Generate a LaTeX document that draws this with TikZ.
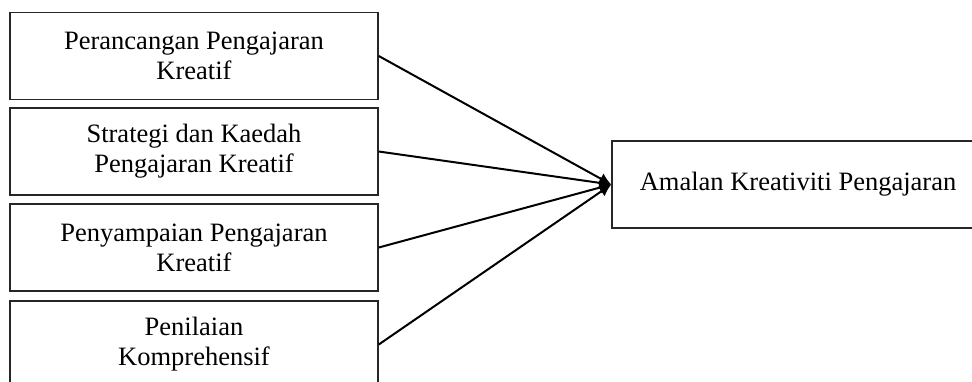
\documentclass[tikz,border=0pt]{standalone}
\usepackage{fontspec}
\setmainfont{Liberation Serif}
\usetikzlibrary{arrows.meta}

\begin{document}
\begin{tikzpicture}[x=1pt, y=-1pt,
    factor/.style={draw=black!85, line width=1.5pt, minimum width=368pt, minimum height=87pt,
      align=center, inner sep=0pt, font=\fontsize{26.5}{30}\selectfont},
    link/.style={-{Latex[length=12pt,width=12pt]}, line width=2pt}]
        % page frame
        \clip (0,0) rectangle (972,381);
        
        % Factors
        \node[factor] (design) at (194,56) {Perancangan Pengajaran\\Kreatif};
        \node[factor] (strategy) at (194,151.5) {Strategi dan Kaedah\\Pengajaran Kreatif};
        \node[factor] (delivery) at (194,247.5) {Penyampaian Pengajaran\\Kreatif};
        \node[factor] (assess) at (194,344.5) {Penilaian\\Komprehensif};
        
        % Outcome
        \node[factor, minimum width=372pt] (practice) at (798,184.5) {Amalan Kreativiti Pengajaran};
        
        % Connections
        \foreach \f in {design,strategy,delivery,assess}
            \draw[link] (\f.east) -- (practice.west);
    \end{tikzpicture}
\end{document}
